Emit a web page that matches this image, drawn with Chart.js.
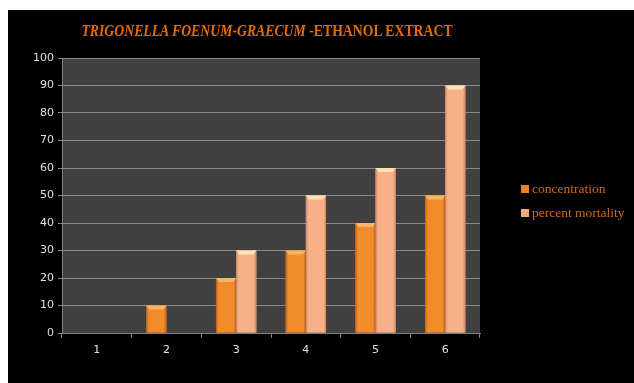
<!DOCTYPE html>
<html>
<head>
<meta charset="utf-8">
<script src="https://cdn.jsdelivr.net/npm/chart.js@4"></script>
<style>
  html, body { margin: 0; padding: 0; background: #ffffff; }
  #frame { position: absolute; left: 8px; top: 10px; width: 626px; height: 373px; background: #000000; }
  #title { position: absolute; left: 0; top: 12px; width: 518px; text-align: center;
           font-family: "Liberation Serif", "Times New Roman", serif; font-weight: bold; font-size: 16px;
           color: #e36c0a; white-space: nowrap; transform: scaleX(0.86); transform-origin: 259px 0; }
  #chart-box { position: absolute; left: 0; top: 0; width: 626px; height: 373px; }
  #legend { position: absolute; left: 513px; top: 167px; font-family: "Liberation Serif", "Times New Roman", serif;
            font-size: 13.5px; color: #d2690e; }
  #legend div { height: 24px; line-height: 24px; white-space: nowrap; }
  #legend span.box { display: inline-block; width: 8px; height: 8px; margin-right: 3px; }
</style>
</head>
<body>
<div id="frame">
  <div id="chart-box"><canvas id="bar-chart" width="626" height="373"></canvas></div>
  <div id="title"><i>TRIGONELLA FOENUM-GRAECUM</i> -ETHANOL EXTRACT</div>
  <div id="legend"></div>
</div>
<script>
document.addEventListener("DOMContentLoaded", function () {
    const categories = ["1", "2", "3", "4", "5", "6"];
    const concentration = [0, 10, 20, 30, 40, 50];
    const percentMortality = [0, 0, 30, 50, 60, 90];
    const seriesNames = ["concentration", "percent mortality"];
    const seriesColors = ["#e8801f", "#f3a878"];
    // edge / centre / cap shades for the bevelled look
    const shades = [
        { edge: "#b85e18", mid: "#f28c2a", cap: "#f8b565" },
        { edge: "#c98462", mid: "#f7b088", cap: "#ffe2b8" }
    ];

    const ctx = document.getElementById("bar-chart").getContext("2d");

    // fill the plot area dark grey
    const plotBackground = {
        id: "plotBackground",
        beforeDraw(chart) {
            const a = chart.chartArea;
            chart.ctx.save();
            chart.ctx.fillStyle = "#404040";
            chart.ctx.fillRect(a.left, a.top, a.right - a.left, a.bottom - a.top);
            chart.ctx.restore();
        }
    };

    // shade each bar like the office 3d-ish style
    const barShading = {
        id: "barShading",
        afterDatasetsDraw(chart) {
            const c = chart.ctx;
            chart.data.datasets.forEach(function (ds, di) {
                const meta = chart.getDatasetMeta(di);
                const s = shades[di];
                meta.data.forEach(function (bar) {
                    const h = bar.base - bar.y;
                    if (h <= 0) return;
                    const left = bar.x - bar.width / 2;
                    const right = bar.x + bar.width / 2;
                    c.save();
                    const g = c.createLinearGradient(left, 0, right, 0);
                    g.addColorStop(0, s.edge);
                    g.addColorStop(0.12, s.mid);
                    g.addColorStop(0.6, s.mid);
                    g.addColorStop(0.88, s.mid);
                    g.addColorStop(1, s.edge);
                    c.fillStyle = g;
                    c.fillRect(left, bar.y, bar.width, h);
                    // top bevel
                    c.fillStyle = s.cap;
                    c.beginPath();
                    c.moveTo(left, bar.y);
                    c.lineTo(right, bar.y);
                    c.lineTo(right - 3, bar.y + 4);
                    c.lineTo(left + 3, bar.y + 4);
                    c.closePath();
                    c.fill();
                    c.restore();
                });
            });
        }
    };

    new Chart(ctx, {
        type: "bar",
        data: {
            labels: categories,
            datasets: [
                { label: seriesNames[0], data: concentration, backgroundColor: seriesColors[0] },
                { label: seriesNames[1], data: percentMortality, backgroundColor: seriesColors[1] }
            ]
        },
        plugins: [plotBackground, barShading],
        options: {
            responsive: false,
            animation: false,
            layout: { padding: { top: 48, right: 154, left: 0, bottom: 0 } },
            plugins: { legend: { display: false }, tooltip: { enabled: false } },
            datasets: { bar: { categoryPercentage: 0.58, barPercentage: 1.0 } },
            scales: {
                x: {
                    grid: { offset: true, drawOnChartArea: false, color: "#808080", tickLength: 5 },
                    border: { color: "#808080" },
                    ticks: { color: "#e0e0e0", font: { family: "DejaVu Sans", size: 11 }, padding: 6 },
                    afterFit: function (scale) { scale.height = 50; }
                },
                y: {
                    min: 0, max: 100,
                    grid: { color: "#8a8a8a", tickLength: 4 },
                    border: { color: "#808080" },
                    ticks: { stepSize: 10, color: "#e0e0e0", font: { family: "DejaVu Sans", size: 11 }, padding: 4 },
                    afterFit: function (scale) { scale.width = 54; }
                }
            }
        }
    });

    const legend = document.getElementById("legend");
    seriesNames.forEach(function (name, i) {
        const row = document.createElement("div");
        const box = document.createElement("span");
        box.className = "box";
        box.style.background = seriesColors[i];
        row.appendChild(box);
        row.appendChild(document.createTextNode(name));
        legend.appendChild(row);
    });
});
</script>
</body>
</html>
